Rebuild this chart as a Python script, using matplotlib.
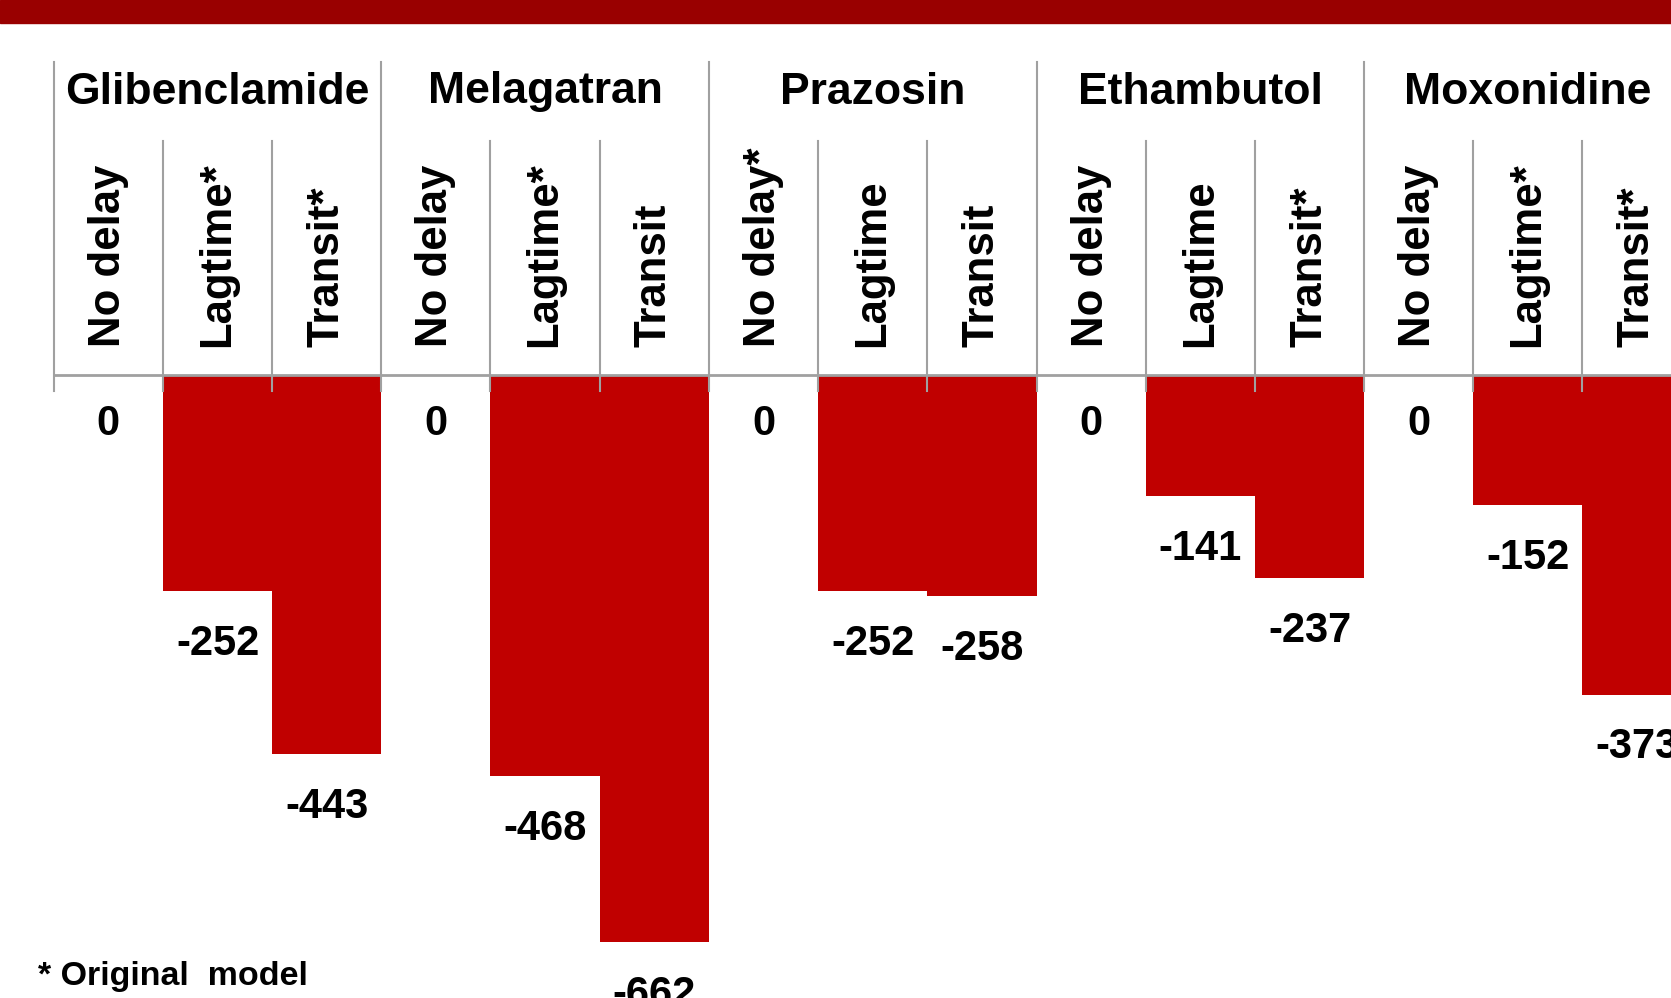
import numpy as np
import matplotlib
matplotlib.use("Agg")
import matplotlib.pyplot as plt
from matplotlib.patches import Rectangle

plt.rcParams['font.family'] = ['Liberation Sans', 'DejaVu Sans']
plt.rcParams['font.weight'] = 'bold'

drugs = ["Glibenclamide", "Melagatran", "Prazosin", "Ethambutol", "Moxonidine"]
models = [
    ["No delay", "Lagtime*", "Transit*"],
    ["No delay", "Lagtime*", "Transit"],
    ["No delay*", "Lagtime", "Transit"],
    ["No delay", "Lagtime", "Transit*"],
    ["No delay", "Lagtime*", "Transit*"],
]
no_delay = [0, 0, 0, 0, 0]
lagtime = [-252, -468, -252, -141, -152]
transit = [-443, -662, -258, -237, -373]

values = np.column_stack([no_delay, lagtime, transit]).ravel()
labels = [m for grp in models for m in grp]

W, H = 1671, 998
fig = plt.figure(figsize=(W / 100, H / 100), dpi=100)

# dark red band at the top
fig.patches.append(Rectangle((0, 1 - 23 / H), 1, 23 / H, transform=fig.transFigure,
                             color="#990000", zorder=0))

px_per_unit = 0.8566
cat_px = 109.2
left_px = 53.7
zero_px = 375
top_px = 62
ax_w = len(values) * cat_px
ax = fig.add_axes([left_px / W, 0, ax_w / W, 1 - top_px / H])
ax.set_xlim(0, len(values))
ymax = (zero_px - top_px) / px_per_unit
ymin = -(H - zero_px) / px_per_unit
ax.set_ylim(ymin, ymax)
ax.axis("off")

x = np.arange(len(values)) + 0.5
ax.bar(x, values, width=1.0, color="#c00000", zorder=2)

grid_c = "#a0a0a0"
below = -16 / px_per_unit
# group separators
for g in range(len(drugs) + 1):
    ax.plot([g * 3, g * 3], [ymax, below], color=grid_c, lw=1.5, zorder=3, clip_on=False)
# sub separators
sub_top = (zero_px - 141) / px_per_unit
for i in range(len(values)):
    if i % 3:
        ax.plot([i, i], [sub_top, below], color=grid_c, lw=1.5, zorder=3, clip_on=False)
ax.axhline(0, color=grid_c, lw=2, zorder=3)

# group titles
title_y = (zero_px - 92) / px_per_unit
for g, name in enumerate(drugs):
    ax.text(g * 3 + 1.5, title_y, name, ha="center", va="center",
            fontsize=32, fontweight="bold")

# rotated model labels
lab_y = (zero_px - 347) / px_per_unit
for xi, lab in zip(x, labels):
    ax.text(xi, lab_y, lab, rotation=90, ha="center", va="bottom",
            fontsize=31.5, fontweight="bold")

# value labels
for xi, v in zip(x, values):
    off = -43 if v == 0 else -46
    ax.annotate(f"{v:d}", (xi, v), xytext=(0, off), textcoords="offset points",
                ha="center", va="baseline", fontsize=30, fontweight="bold",
                annotation_clip=False)

fig.text(38 / W, 1 - 985 / H, "* Original  model", ha="left", va="baseline",
         fontsize=24.5, fontweight="bold")

fig.savefig("out.png", dpi=100)
